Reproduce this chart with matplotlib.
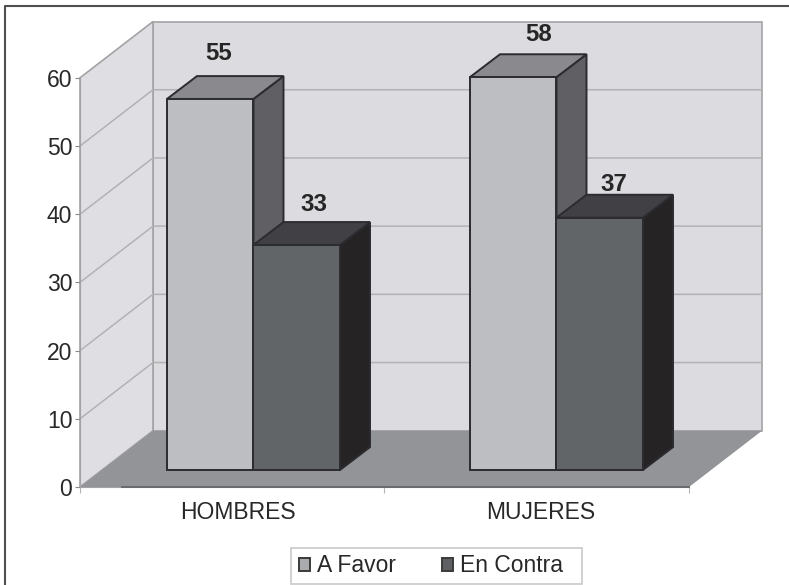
import matplotlib
matplotlib.use('Agg')
import matplotlib.pyplot as plt
from matplotlib.patches import Polygon, Patch, Rectangle

plt.rcParams['font.family'] = ['Liberation Sans', 'DejaVu Sans']

# values
categories = ['HOMBRES', 'MUJERES']
series_names = ['A Favor', 'En Contra']
a_favor = [54.4, 57.6]
en_contra = [33, 37]
a_favor_labels = ['55', '58']
en_contra_labels = ['33', '37']
y_ticks = [0, 10, 20, 30, 40, 50, 60]

# the axes covers the whole figure: x is in pixels, y in chart units
W, H = 789, 585
PX_PER_UNIT = 6.82
Y_ZERO_PX = 487
X_FRONT, X_BACK, X_RIGHT_BACK = 80, 153, 762
X_RIGHT_FRONT = X_RIGHT_BACK - (X_BACK - X_FRONT)
WALL_RISE = 8.25
BAR_W = 86.5
BAR_DX = 30
BAR_RISE = 3.35
BAR_BASE = 2.5
GROUP_LEFT = [167, 470]
TEXT_PT = 16.5
TEXT_COLOR = '#282828'


def draw_bar(ax, x0, value, front, top, side):
    x1 = x0 + BAR_W
    y1 = BAR_BASE + value
    kw = dict(edgecolor='#2b2b30', linewidth=1.4, joinstyle='miter', zorder=5)
    ax.add_patch(Polygon([(x1, BAR_BASE), (x1 + BAR_DX, BAR_BASE + BAR_RISE),
                          (x1 + BAR_DX, y1 + BAR_RISE), (x1, y1)], facecolor=side, **kw))
    ax.add_patch(Polygon([(x0, y1), (x0 + BAR_DX, y1 + BAR_RISE),
                          (x1 + BAR_DX, y1 + BAR_RISE), (x1, y1)], facecolor=top, **kw))
    ax.add_patch(Polygon([(x0, BAR_BASE), (x1, BAR_BASE), (x1, y1), (x0, y1)],
                         facecolor=front, **kw))


fig = plt.figure(figsize=(W / 100, H / 100), dpi=100)
ax = fig.add_axes([0, 0, 1, 1])
ax.set_xlim(0, W)
ax.set_ylim((Y_ZERO_PX - H) / PX_PER_UNIT, Y_ZERO_PX / PX_PER_UNIT)
ax.patch.set_visible(False)

# walls and floor
top = y_ticks[-1]
ax.add_patch(Polygon([(X_BACK, WALL_RISE), (X_RIGHT_BACK, WALL_RISE),
                      (X_RIGHT_BACK, top + WALL_RISE), (X_BACK, top + WALL_RISE)],
                     facecolor='#dcdce0', edgecolor='#a3a3a5', linewidth=1.2, zorder=1))
ax.add_patch(Polygon([(X_FRONT, 0), (X_BACK, WALL_RISE), (X_BACK, top + WALL_RISE), (X_FRONT, top)],
                     facecolor='#dfdfe3', edgecolor='#a3a3a5', linewidth=1.2, zorder=1))
ax.add_patch(Polygon([(X_FRONT, 0), (X_BACK, WALL_RISE), (X_RIGHT_BACK, WALL_RISE), (X_RIGHT_FRONT, 0)],
                     facecolor='#929497', edgecolor='none', zorder=2))

# gridlines on both walls
for v in y_ticks[1:-1]:
    ax.plot([X_FRONT, X_BACK, X_RIGHT_BACK], [v, v + WALL_RISE, v + WALL_RISE],
            color='#b2b2b4', lw=1.1, zorder=1.5)
ax.plot([122, X_RIGHT_FRONT], [0, 0], color='#6a6a6c', lw=1.4, zorder=3)

# bars
for i, x0 in enumerate(GROUP_LEFT):
    draw_bar(ax, x0, a_favor[i], '#bcbec1', '#8a8a8e', '#5f5f64')
    draw_bar(ax, x0 + BAR_W, en_contra[i], '#626568', '#414145', '#262324')

# value labels, placed by hand in the original
nudges = [(-7, 23), (10, 20), (2, 18), (-1, 10)]
labels = [a_favor_labels[0], a_favor_labels[1], en_contra_labels[0], en_contra_labels[1]]
heights = [a_favor[0], a_favor[1], en_contra[0], en_contra[1]]
lefts = [GROUP_LEFT[0], GROUP_LEFT[1], GROUP_LEFT[0] + BAR_W, GROUP_LEFT[1] + BAR_W]
for text, h, x0, (dx, dy) in zip(labels, heights, lefts, nudges):
    ax.annotate(text, (x0 + (BAR_W + BAR_DX) / 2, BAR_BASE + h + BAR_RISE),
                xytext=(dx * 0.72, dy * 0.72), textcoords='offset points',
                ha='center', va='center', fontsize=17.3, fontweight='bold',
                color='#262626', zorder=6)

# axes lines, ticks and labels
for name in ['top', 'right']:
    ax.spines[name].set_visible(False)
ax.spines['left'].set_position(('data', X_FRONT))
ax.spines['left'].set_bounds(0, top)
ax.spines['left'].set_color('#a3a3a5')
ax.spines['bottom'].set_position(('data', 0))
ax.spines['bottom'].set_bounds(X_FRONT, X_RIGHT_FRONT)
ax.spines['bottom'].set_color('#a3a3a5')
ax.set_yticks(y_ticks)
ax.tick_params(axis='y', length=3.5, width=0.8, color='#8a8a8a', pad=2,
               labelsize=TEXT_PT, labelcolor=TEXT_COLOR)
ax.set_xticks([238, 541], categories)
ax.set_xticks([X_FRONT, 384, X_RIGHT_FRONT], minor=True)
ax.tick_params(axis='x', which='major', length=0, pad=10, labelsize=TEXT_PT, labelcolor=TEXT_COLOR)
ax.tick_params(axis='x', which='minor', length=4.5, width=0.8, color='#b5b5b5')

# legend: the box is wider than its entries, so the frame is drawn on its own
fig.add_artist(Rectangle((291 / W, 1 - 584 / H), 291 / W, 36 / H, transform=fig.transFigure,
                         facecolor='white', edgecolor='#c9c9c9', linewidth=1.2, zorder=-1))
handles = [Patch(facecolor='#a9abae', edgecolor='#3a3a3a', linewidth=1.4),
           Patch(facecolor='#5e6063', edgecolor='#3a3a3a', linewidth=1.4)]
ax.legend(handles, series_names, ncol=2, loc='center left', fontsize=TEXT_PT,
          bbox_to_anchor=(291 / W, 1 - 566 / H), bbox_transform=fig.transFigure,
          frameon=False, labelcolor=TEXT_COLOR,
          handlelength=0.48, handleheight=0.48, handletextpad=0.3, columnspacing=2.02,
          borderpad=0.35, borderaxespad=0)

# outer frame, it runs off the right and bottom of the image
ax.plot([5, 5, W], [ax.get_ylim()[0], (Y_ZERO_PX - 6) / PX_PER_UNIT, (Y_ZERO_PX - 6) / PX_PER_UNIT],
        color='#4f4f4f', lw=1.5, clip_on=False, zorder=7)

fig.savefig('out.png', dpi=100)
